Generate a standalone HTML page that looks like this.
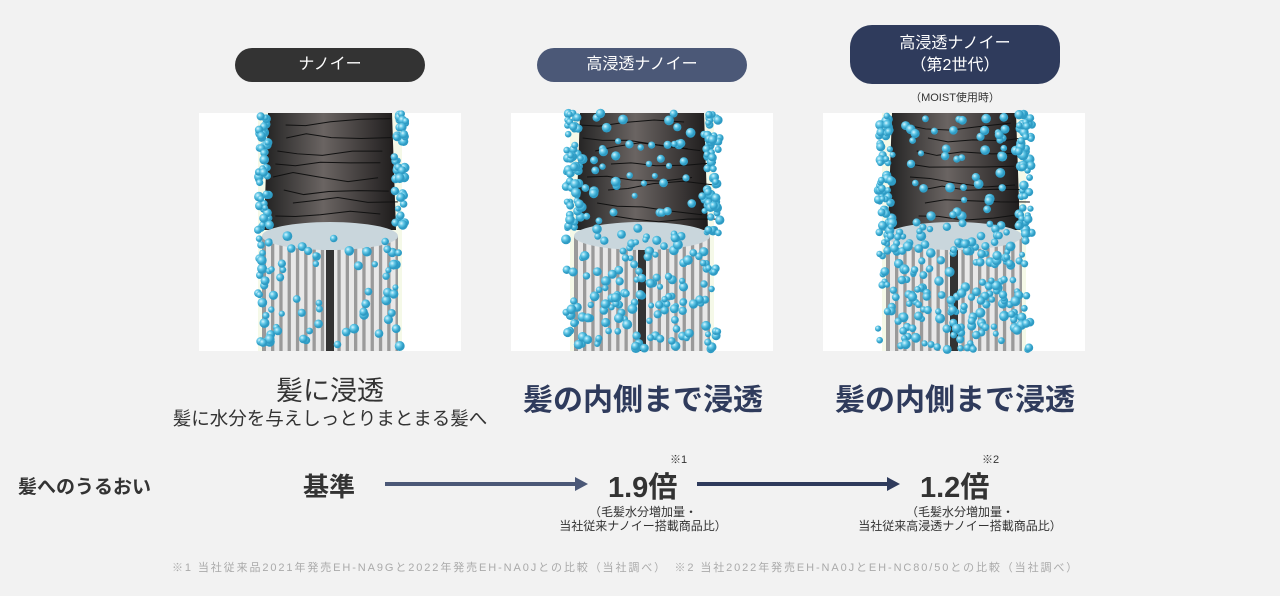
<!DOCTYPE html>
<html><head><meta charset="utf-8"><style>
body{margin:0;width:1280px;height:596px;background:#f2f2f2;position:relative;overflow:hidden;font-family:"Liberation Sans","Noto Sans CJK JP",sans-serif;color:#333}
.a{position:absolute}
.pill{position:absolute;color:#fff;text-align:center;font-size:16px;border-radius:18px}
.c{text-align:center}
</style></head><body>
<div class="pill" style="left:235px;top:48px;width:190px;height:34px;line-height:34px;background:#333">ナノイー</div>
<div class="pill" style="left:537px;top:48px;width:210px;height:34px;line-height:34px;background:#4b5877">高浸透ナノイー</div>
<div class="pill" style="left:850px;top:25px;width:210px;height:59px;line-height:22px;padding-top:8px;box-sizing:border-box;background:#2f3b5c;border-radius:22px">高浸透ナノイー<br>（第2世代）</div>
<div class="a c" style="left:850px;top:89px;width:210px;font-size:11px">（MOIST使用時）</div>

<svg class="a" style="left:0;top:0" width="1280" height="360" id="s"></svg>

<div class="a c" style="left:150px;top:369px;width:360px;font-size:27px">髪に浸透</div>
<div class="a c" style="left:130px;top:405px;width:400px;font-size:18.5px">髪に水分を与えしっとりまとまる髪へ</div>
<div class="a c" style="left:480px;top:375px;width:326px;font-size:30px;font-weight:bold;color:#2f3b5c">髪の内側まで浸透</div>
<div class="a c" style="left:792px;top:375px;width:326px;font-size:30px;font-weight:bold;color:#2f3b5c">髪の内側まで浸透</div>

<div class="a" style="left:18px;top:472px;font-size:19px;font-weight:bold">髪へのうるおい</div>
<div class="a" style="left:303px;top:467px;font-size:26px;font-weight:bold">基準</div>
<div class="a" style="left:385px;top:482px;width:192px;height:4px;background:#4b5877"></div>
<div class="a" style="left:575px;top:477px;border-left:13px solid #4b5877;border-top:7px solid transparent;border-bottom:7px solid transparent"></div>
<div class="a" style="left:608px;top:464px;font-size:29px;font-weight:bold">1.9倍</div>
<div class="a" style="left:670px;top:451px;font-size:11px">※1</div>
<div class="a" style="left:697px;top:482px;width:192px;height:4px;background:#2f3b5c"></div>
<div class="a" style="left:887px;top:477px;border-left:13px solid #2f3b5c;border-top:7px solid transparent;border-bottom:7px solid transparent"></div>
<div class="a" style="left:920px;top:464px;font-size:29px;font-weight:bold">1.2倍</div>
<div class="a" style="left:982px;top:451px;font-size:11px">※2</div>
<div class="a c" style="left:533px;top:505px;width:220px;font-size:12px;line-height:14px">（毛髪水分増加量・<br>当社従来ナノイー搭載商品比）</div>
<div class="a c" style="left:825px;top:505px;width:270px;font-size:12px;line-height:14px">（毛髪水分増加量・<br>当社従来高浸透ナノイー搭載商品比）</div>
<div class="a" style="left:172px;top:559px;font-size:11px;letter-spacing:1.9px;color:#aaa;white-space:nowrap">※1 当社従来品2021年発売EH-NA9Gと2022年発売EH-NA0Jとの比較（当社調べ）　※2 当社2022年発売EH-NA0JとEH-NC80/50との比較（当社調べ）</div>

<script>
var s=document.getElementById('s'),h='';
h+='<defs><radialGradient id="b" cx="35%" cy="35%"><stop offset="0" stop-color="#d8f6ff"/><stop offset="0.5" stop-color="#5fc6e6"/><stop offset="1" stop-color="#2e9bc4"/></radialGradient><linearGradient id="d" x1="0" x2="1"><stop offset="0" stop-color="#222"/><stop offset="0.45" stop-color="#6a6462"/><stop offset="1" stop-color="#1e1c1c"/></linearGradient></defs>';
var seed=7;function r(){seed=(seed*9301+49297)%233280;return seed/233280;}
[[199,1],[511,2],[823,3]].forEach(function(p){
 var x=p[0],k=p[1],L=x+67,R=x+195;
 h+='<rect x="'+x+'" y="113" width="262" height="238" fill="#fff"/>';
 h+='<rect x="'+(L-8)+'" y="113" width="'+(R-L+16)+'" height="238" fill="#eef5d8" opacity="0.6"/>';
 h+='<path d="M'+(L+2)+' 113 L'+(R-2)+' 113 L'+(R+2)+' 230 L'+(L-2)+' 230 Z" fill="url(#d)"/>';
 for(var i=0;i<8;i++){var y=125+i*13;h+='<path d="M'+(L+r()*40)+' '+y+' l20 '+(r()*10-5)+' l25 '+(r()*10-5)+' l30 '+(r()*10-5)+' l30 '+(r()*10-5)+'" stroke="#111" fill="none" stroke-width="1"/>';}
 h+='<rect x="'+(L-4)+'" y="236" width="'+(R-L+8)+'" height="115" fill="#9a9a9a"/>';
 for(var i=0;i<16;i++)h+='<rect x="'+(L+i*8.3)+'" y="236" width="5" height="115" fill="#e8e8e8"/>';
 h+='<rect x="'+(L+60)+'" y="236" width="8" height="115" fill="#333"/>';
 h+='<ellipse cx="'+(L+64)+'" cy="236" rx="'+((R-L)/2+4)+'" ry="14" fill="#c9d6dc"/>';
 var n=[170,320,380][k-1];
 for(var i=0;i<n;i++){var xx,yy;
  if(k==1){yy=113+r()*238; if(yy>236) xx=L-4+r()*(R-L+8); else xx=(r()<0.5?L-8:R)+r()*12; if(yy>236&&r()<0.4) xx=(r()<0.5?L-8:R-8)+r()*14;}
  else {yy=113+r()*238; var e=r(); if(e<0.35&&yy<236) xx=L+r()*(R-L); else if(yy>236) xx=L-12+r()*(R-L+24); else xx=(r()<0.5?L-12:R)+r()*14;}
  h+='<circle cx="'+xx.toFixed(1)+'" cy="'+yy.toFixed(1)+'" r="'+(3+r()*2).toFixed(1)+'" fill="url(#b)"/>';}
});
s.innerHTML=h;
</script>
</body></html>
